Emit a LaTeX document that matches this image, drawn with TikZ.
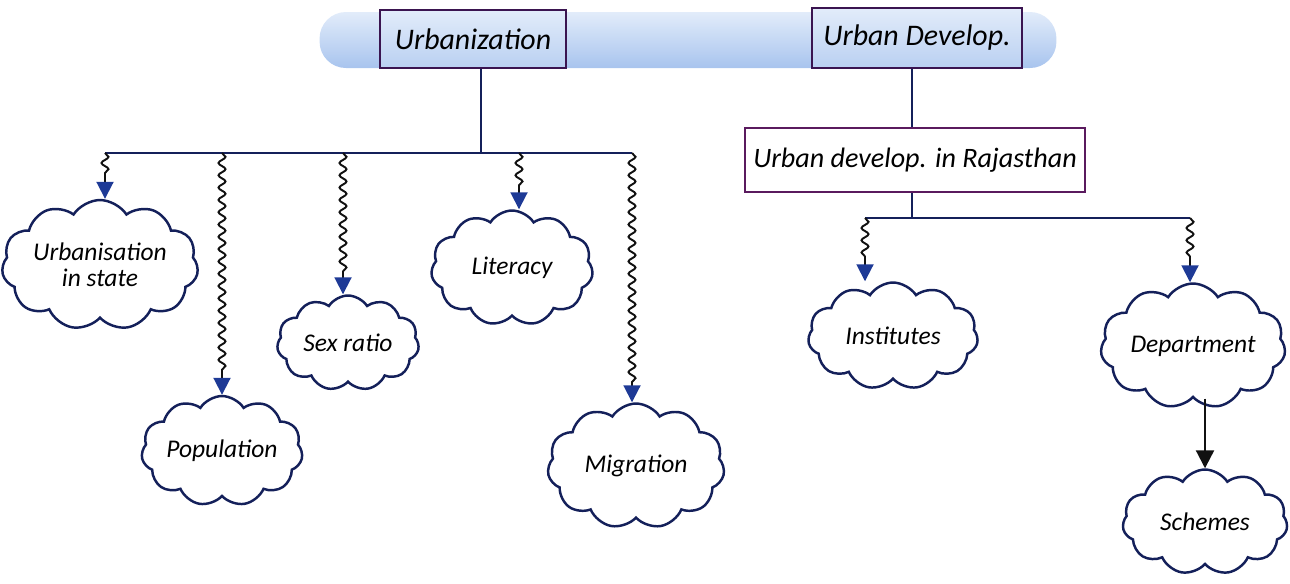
\documentclass[tikz,border=0pt]{standalone}
\usepackage{fontspec}
\setsansfont{Carlito}
\usetikzlibrary{positioning,arrows.meta,shapes.symbols,
                decorations.pathmorphing}
\definecolor{navy800} {HTML}{14205A}
\definecolor{navy600} {HTML}{1E3A96}
\definecolor{plum800} {HTML}{3A1450}
\definecolor{plum600} {HTML}{5A1A5E}
\definecolor{sky100}  {HTML}{E2ECFA}
\definecolor{sky300}  {HTML}{A8C4EE}
\definecolor{ink}     {HTML}{111111}
\tikzset{
  bar/.style   ={draw=none, top color=sky100, bottom color=sky300,
                 rounded corners=15pt},
  hbox/.style  ={draw=plum800, line width=1.4pt, top color=sky100,
                 bottom color=sky300!80, align=center,
                 font=\sffamily\itshape\fontsize{17}{19}\selectfont},
  sbox/.style  ={draw=plum600, line width=1.2pt, fill=white, align=center,
                 font=\sffamily\itshape\fontsize{16}{18}\selectfont},
  topic/.style ={cloud, cloud puffs=11, cloud puff arc=115,
                 cloud ignores aspect, draw=navy800, line width=1.4pt,
                 fill=white, align=center, inner sep=1pt,
                 font=\sffamily\itshape\fontsize{14.5}{15}\selectfont},
  bus/.style   ={draw=navy800, line width=1.2pt},
  snk/.style   ={draw=ink, line width=1.1pt,
                 decorate, decoration={snake, segment length=7pt,
                 amplitude=2pt, post length=4mm},
                 -{Triangle[length=3.4mm, width=3.4mm, color=navy600]}},
  ar/.style    ={draw=ink, line width=1.2pt,
                 -{Triangle[length=3.6mm, width=3.6mm]}}
}
\begin{document}
\begin{tikzpicture}[x=0.02cm, y=-0.02cm]
\useasboundingbox (0,0) rectangle (1290,583);
% header strip
\node[bar, minimum width=14.74cm, minimum height=1.12cm] (strip) at (688,40) {};
\node[hbox, minimum width=3.72cm, minimum height=1.16cm] (urbz) at (473,39)
  {Urbanization};
\node[hbox, minimum width=4.2cm, minimum height=1.2cm] (udev) at (917,38)
  {Urban Develop.};
\node[sbox, minimum width=6.8cm, minimum height=1.28cm] (raj) at (915,160)
  {Urban develop. in Rajasthan};

% left branch
\node[topic, minimum width=3.6cm, minimum height=2.6cm] (urbst) at (100,265)
  {Urbanisation\\ in state};
\node[topic, minimum width=3.1cm, minimum height=2.2cm] (pop) at (222,451)
  {Population};
\node[topic, minimum width=2.84cm, minimum height=1.9cm] (sex) at (348,343)
  {Sex ratio};
\node[topic, minimum width=3.24cm, minimum height=2.3cm] (lit) at (512,268)
  {Literacy};
\node[topic, minimum width=3.54cm, minimum height=2.5cm] (mig) at (636,466)
  {Migration};

% right branch
\node[topic, minimum width=3.4cm, minimum height=2.14cm] (inst) at (893,336)
  {Institutes};
\node[topic, minimum width=3.7cm, minimum height=2.5cm] (dept) at (1193,346)
  {Department};
\node[topic, minimum width=3.3cm, minimum height=2.1cm] (sch) at (1205,522)
  {Schemes};

\coordinate (lj) at (481,153);
\coordinate (b1) at (105,153);
\coordinate (b2) at (222,153);
\coordinate (b3) at (343,153);
\coordinate (b4) at (519,153);
\coordinate (b5) at (632,153);
\coordinate (rj) at (912,218);
\coordinate (c1) at (865,218);
\coordinate (c2) at (1190,218);

\draw[bus] (urbz.south -| lj) -- (lj);
\draw[bus] (b1) -- (b5);
\draw[bus] (udev.south -| rj) -- (raj.north -| rj);
\draw[bus] (raj.south -| rj) -- (rj);
\draw[bus] (c1) -- (c2);

\draw[snk] (b1) -- (b1 |- urbst.north);
\draw[snk] (b2) -- (b2 |- pop.north);
\draw[snk] (b3) -- (b3 |- sex.north);
\draw[snk] (b4) -- (b4 |- lit.north);
\draw[snk] (b5) -- (b5 |- mig.north);
\draw[snk] (c1) -- (c1 |- inst.north);
\draw[snk] (c2) -- (c2 |- dept.north);
\draw[ar] (dept.south -| sch) -- (sch.north);
\end{tikzpicture}
\end{document}
